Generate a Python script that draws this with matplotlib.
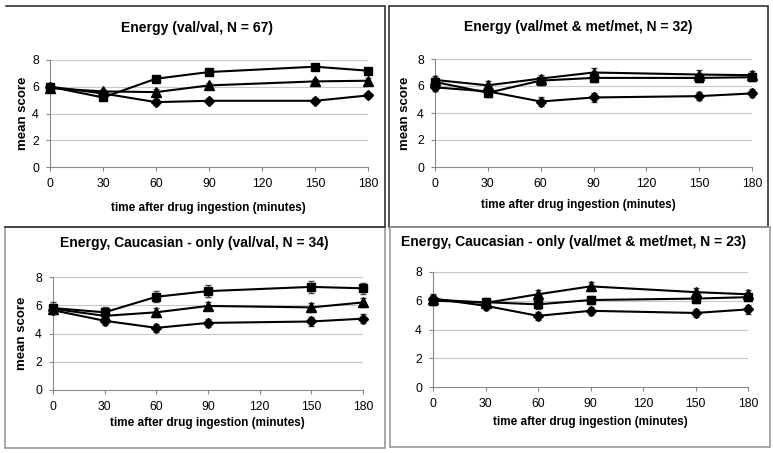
import matplotlib
matplotlib.use('Agg')
import matplotlib.pyplot as plt
from matplotlib.lines import Line2D
from matplotlib.patches import Rectangle

plt.rcParams['font.family'] = ['Liberation Sans', 'DejaVu Sans']

# time points (minutes)
times = [0, 30, 60, 90, 150, 180]
x_ticks = [0, 30, 60, 90, 120, 150, 180]
y_ticks = [0, 2, 4, 6, 8]

titles = [
    'Energy (val/val, N = 67)',
    'Energy (val/met & met/met, N = 32)',
    'Energy, Caucasian - only (val/val, N = 34)',
    'Energy, Caucasian - only (val/met & met/met, N = 23)',
]

# mean scores per panel: diamond, square, triangle series
diamond = [
    [6.0, 5.5, 4.85, 4.95, 4.95, 5.35],
    [5.9, 5.6, 4.85, 5.15, 5.25, 5.45],
    [5.65, 4.9, 4.4, 4.75, 4.85, 5.05],
    [6.15, 5.65, 4.95, 5.3, 5.15, 5.4],
]
square = [
    [6.0, 5.2, 6.6, 7.1, 7.5, 7.2],
    [6.3, 5.5, 6.4, 6.6, 6.6, 6.65],
    [5.8, 5.5, 6.6, 7.0, 7.3, 7.2],
    [6.0, 5.9, 5.75, 6.05, 6.15, 6.25],
]
triangle = [
    [5.9, 5.65, 5.6, 6.1, 6.4, 6.45],
    [6.45, 6.05, 6.55, 7.0, 6.85, 6.8],
    [5.75, 5.25, 5.5, 5.95, 5.85, 6.2],
    [6.1, 5.85, 6.45, 7.0, 6.6, 6.45],
]
# standard errors (approx.)
err_diamond = [0.2, 0.3, 0.3, 0.3]
err_square = [0.2, 0.3, 0.4, 0.3]
err_triangle = [0.2, 0.3, 0.3, 0.3]

fig = plt.figure(figsize=(7.73, 4.53), dpi=100)

W, H = 773.0, 453.0

def fx(px):
    return px / W

def fy(py):
    return 1 - py / H

# axes boxes in pixels: left, right, top, bottom
axes_px = [
    (50, 368, 60, 167),
    (435, 752, 59, 167),
    (53, 363, 277, 390),
    (433, 748, 272, 387),
]
title_px = [(197, 28), (578, 27), (194, 243), (574, 242)]
xlabel_px = [(208, 208), (578, 205), (207, 423), (590, 422)]
ylabel_px = [(23, 113), (405, 113), (22, 333), None]

# panel frames
frames = [
    (389, 6, 768, 227, '#333333'),
    (5, 227, 385, 448, '#999999'),
    (390, 227, 770, 447, '#999999'),
]
for (x0, y0, x1, y1, c) in frames:
    fig.patches.append(Rectangle((fx(x0), fy(y1)), fx(x1) - fx(x0), fy(y0) - fy(y1),
                                 transform=fig.transFigure, fill=False,
                                 edgecolor=c, linewidth=1.2))
# top-left panel: top, right and bottom edges only
fig.lines.append(Line2D([fx(6), fx(385), fx(385), fx(5)], [fy(6), fy(6), fy(227), fy(227)],
                        transform=fig.transFigure, color='#333333', linewidth=1.2))

for i in range(4):
    l, r, t, b = axes_px[i]
    ax = fig.add_axes([fx(l), fy(b), fx(r) - fx(l), fy(t) - fy(b)])
    ax.set_xlim(0, 180)
    ax.set_ylim(0, 8)
    ax.set_xticks(x_ticks)
    ax.set_yticks(y_ticks)
    for g in y_ticks[1:]:
        ax.axhline(g, color='#c8c8c8', linewidth=0.8, zorder=0)
    for s in ['top', 'right']:
        ax.spines[s].set_visible(False)
    for s in ['left', 'bottom']:
        ax.spines[s].set_color('#888888')
        ax.spines[s].set_linewidth(0.8)
    ax.tick_params(direction='out', length=3, width=0.8, color='#888888',
                   labelsize=8.8, pad=5)

    series = [
        (diamond[i], err_diamond[i], 'D', 5),
        (square[i], err_square[i], 's', 5.5),
        (triangle[i], err_triangle[i], '^', 6.5),
    ]
    for vals, err, m, ms in series:
        ax.errorbar(times, vals, yerr=err, color='black', marker=m, markersize=ms,
                    linewidth=1.5, elinewidth=0.8, ecolor='#444444', capsize=2.5,
                    clip_on=False, zorder=3)

    tx, ty = title_px[i]
    fig.text(fx(tx), fy(ty), titles[i], ha='center', va='center',
             fontsize=10, fontweight='bold')
    lx, ly = xlabel_px[i]
    fig.text(fx(lx), fy(ly), 'time after drug ingestion (minutes)', ha='center',
             va='center', fontsize=8.5, fontweight='bold')
    if ylabel_px[i] is not None:
        yx, yy = ylabel_px[i]
        fig.text(fx(yx), fy(yy), 'mean score', ha='center', va='center',
                 rotation=90, fontsize=9.5, fontweight='bold')

plt.savefig('out.png', dpi=100)
